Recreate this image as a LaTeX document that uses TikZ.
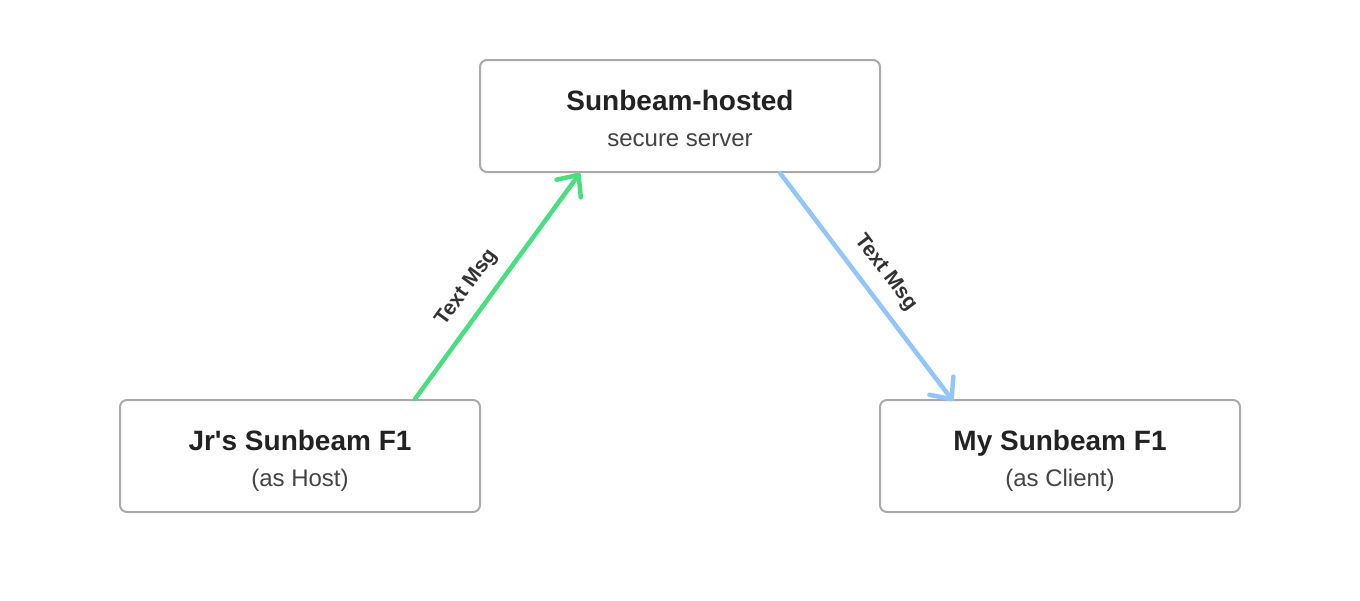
\documentclass[tikz,border=0pt]{standalone}
\usepackage{fontspec}
\setmainfont{Liberation Sans}
\usetikzlibrary{arrows.meta}
\definecolor{boxborder}{HTML}{AAAAAA}
\definecolor{titlecol}{HTML}{222222}
\definecolor{subcol}{HTML}{444444}
\definecolor{greenarrow}{HTML}{4ADE80}
\definecolor{bluearrow}{HTML}{93C5FD}
\definecolor{labelcol}{HTML}{333333}
\tikzset{
  devbox/.style={draw=boxborder, line width=2pt, rounded corners=7pt, fill=white, inner sep=0pt},
  titletext/.style={anchor=base, text=titlecol, font=\fontsize{28}{32}\selectfont\bfseries, inner sep=0pt},
  subtext/.style={anchor=base, text=subcol, font=\fontsize{24}{28}\selectfont, inner sep=0pt},
  msglabel/.style={sloped, text=labelcol, font=\fontsize{21}{24}\selectfont\bfseries, inner sep=0pt},
  flow/.style={line width=4.5pt, line cap=round, -{Straight Barb[length=17pt,width=30pt,round]}}
}
\begin{document}
\begin{tikzpicture}[x=1pt,y=-1pt]
\useasboundingbox (0,0) rectangle (1360,600);
% boxes
\node[devbox, minimum width=400pt, minimum height=112pt] (srv) at (680,116) {};
\node[devbox, minimum width=360pt, minimum height=112pt] (jr) at (300,456) {};
\node[devbox, minimum width=360pt, minimum height=112pt] (my) at (1060,456) {};
% texts
\node[titletext] (srvt) at (680,110) {Sunbeam-hosted};
\node[subtext] (srvs) at (680,146) {secure server};
\node[titletext] (jrt) at (300,450) {Jr\textquotesingle s Sunbeam F1};
\node[subtext] (jrs) at (300,486) {(as Host)};
\node[titletext] (myt) at (1060,450) {My Sunbeam F1};
\node[subtext] (mys) at (1060,486) {(as Client)};
% connectors
\draw[flow, greenarrow] ([xshift=115pt]jr.north) -- node[msglabel, pos=0.43, above=12pt] (lbl1) {Text Msg} ([xshift=-100pt]srv.south);
\draw[flow, bluearrow] ([xshift=100pt]srv.south) -- node[msglabel, pos=0.5, above=12pt] (lbl2) {Text Msg} ([xshift=-107pt,yshift=-2pt]my.north);
\end{tikzpicture}
\end{document}
